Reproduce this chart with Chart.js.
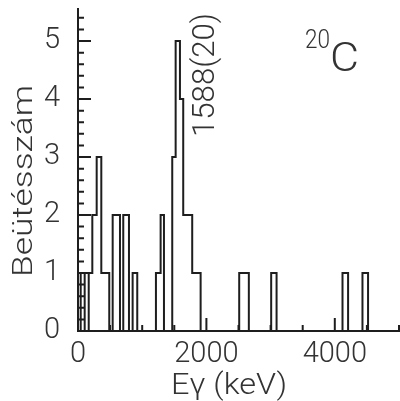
<!DOCTYPE html>
<html>
<head>
<meta charset="utf-8">
<script src="https://cdn.jsdelivr.net/npm/chart.js@4.4.1/dist/chart.umd.min.js"></script>
<style>
  html, body { margin: 0; padding: 0; background: #fff; }
</style>
</head>
<body>
<canvas id="spectrum" width="400" height="401"></canvas>
<script>
// gamma spectrum of 20C: each bin runs from its start energy (keV) to the next one
// (zero-width empty bins mark where single counts sit next to each other)
const binStart = [0, 42, 42, 104, 104, 167, 167, 223, 291, 363,
                  487, 540, 654, 705, 794, 851, 923,
                  1214, 1287, 1339,
                  1468, 1521, 1588, 1639, 1779, 1910,
                  2511, 2661, 3009, 3093, 4120, 4207, 4431, 4518, 5000];
const counts   = [1, 0, 1, 0, 1, 0, 1, 2, 3, 1,
                  0, 2, 0, 2, 0, 1, 0,
                  1, 2, 0,
                  3, 5, 4, 2, 1, 0,
                  1, 0, 1, 0, 1, 0, 1, 0, 0];

const xTicks = [0, 2000, 4000];
const xMinorTicks = [500, 1000, 1500, 2500, 3000, 3500, 4500, 5000];
const yTicks = [0, 1, 2, 3, 4, 5];
const yMinorTicks = [0.2, 0.4, 0.6, 0.8, 1.2, 1.4, 1.6, 1.8, 2.2, 2.4, 2.6, 2.8,
                     3.2, 3.4, 3.6, 3.8, 4.2, 4.4, 4.6, 4.8, 5.2, 5.4];

const ink = '#1e1e1e';
const textInk = '#333';
const family = 'Roboto';

function fittedText(ctx, str, x, y, angle, font, width) {
  ctx.save();
  ctx.translate(x, y);
  ctx.rotate(angle);
  ctx.font = font;
  ctx.textAlign = 'left';
  ctx.textBaseline = 'alphabetic';
  const w = ctx.measureText(str).width;
  ctx.scale(width / w, 1);
  ctx.fillText(str, 0, 0);
  ctx.restore();
}

const decorations = {
  id: 'decorations',
  afterDraw(chart) {
    const { ctx, chartArea: a, scales: { x, y } } = chart;
    ctx.save();
    ctx.strokeStyle = ink;
    ctx.lineWidth = 2;
    ctx.beginPath();
    ctx.moveTo(a.left, a.top);
    ctx.lineTo(a.left, a.bottom);
    ctx.lineTo(chart.width, a.bottom);
    ctx.stroke();

    ctx.beginPath();
    yTicks.forEach(v => { const p = y.getPixelForValue(v); ctx.moveTo(a.left, p); ctx.lineTo(a.left + 13, p); });
    yMinorTicks.forEach(v => { const p = y.getPixelForValue(v); ctx.moveTo(a.left, p); ctx.lineTo(a.left + 6, p); });
    xTicks.forEach(v => { const p = x.getPixelForValue(v); ctx.moveTo(p, a.bottom); ctx.lineTo(p, a.bottom - 13); });
    xMinorTicks.forEach(v => { const p = x.getPixelForValue(v); ctx.moveTo(p, a.bottom); ctx.lineTo(p, a.bottom - 6); });
    ctx.stroke();

    ctx.fillStyle = textInk;
    fittedText(ctx, 'Beütésszám', 32, 277, -Math.PI / 2, `300 28px ${family}`, 192);
    fittedText(ctx, 'Eγ (keV)', 171, 394, 0, `300 30px ${family}`, 116);
    fittedText(ctx, '1588(20)', 214, 137, -Math.PI / 2, `300 31px ${family}`, 124);
    fittedText(ctx, '20', 305, 48, 0, `300 25px ${family}`, 25);
    fittedText(ctx, 'C', 330, 71, 0, `300 40px ${family}`, 29);
    ctx.restore();
  }
};

function main() {
  const ctx = document.getElementById('spectrum').getContext('2d');
  const points = binStart.map((e, i) => ({ x: e, y: counts[i] }));

  new Chart(ctx, {
    type: 'line',
    data: {
      datasets: [{
        data: points,
        stepped: true,
        borderColor: ink,
        borderWidth: 2,
        pointRadius: 0,
        fill: false
      }]
    },
    options: {
      responsive: false,
      animation: false,
      layout: { padding: { top: 8, right: 1, left: 0, bottom: 0 } },
      plugins: {
        legend: { display: false },
        tooltip: { enabled: false }
      },
      scales: {
        x: {
          type: 'linear',
          min: 0,
          max: 5000,
          grid: { display: false, drawTicks: false },
          border: { display: false },
          afterBuildTicks: s => { s.ticks = xTicks.map(v => ({ value: v })); },
          afterFit: s => { s.height = 70; s.paddingLeft = 0; s.paddingRight = 0; },
          ticks: {
            padding: 6,
            maxRotation: 0,
            color: textInk,
            font: { family: family, size: 29, weight: '300' },
            callback: v => String(v)
          }
        },
        y: {
          min: 0,
          max: 5.57,
          grid: { display: false, drawTicks: false },
          border: { display: false },
          afterBuildTicks: s => { s.ticks = yTicks.map(v => ({ value: v })); },
          afterFit: s => { s.width = 78; s.paddingTop = 0; s.paddingBottom = 0; },
          ticks: {
            padding: 18,
            color: textInk,
            font: { family: family, size: 29, weight: '300' },
            callback: v => String(v)
          }
        }
      }
    },
    plugins: [decorations]
  });
}

window.addEventListener('DOMContentLoaded', main);
</script>
</body>
</html>
